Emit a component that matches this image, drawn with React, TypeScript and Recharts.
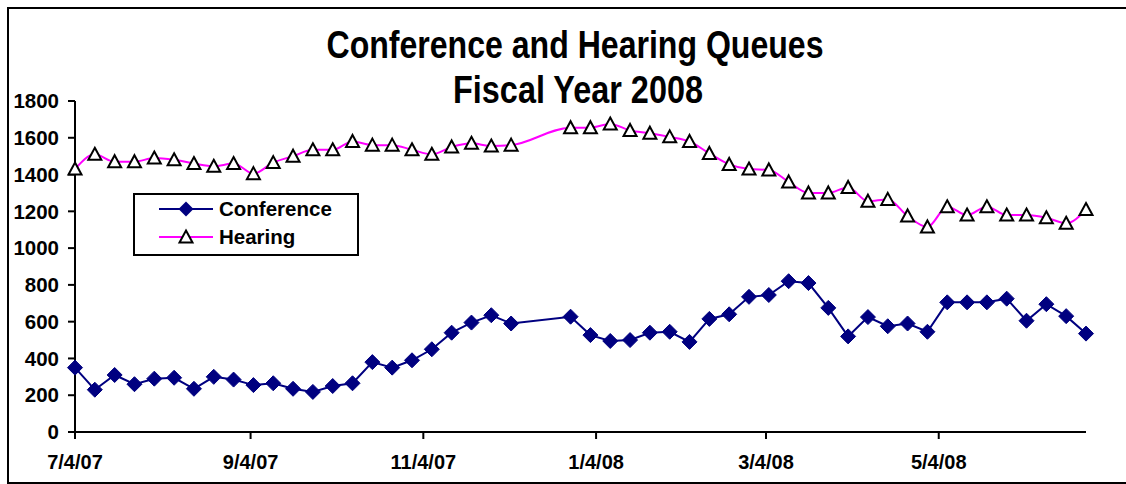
import { LineChart, Line, XAxis, YAxis, Legend } from "recharts";

// weekly queue counts, FY2008 (two weeks missing in December)
const DATES = [
  "7/4/07", "7/11/07", "7/18/07", "7/25/07", "8/1/07", "8/8/07", "8/15/07", "8/22/07",
  "8/29/07", "9/5/07", "9/12/07", "9/19/07", "9/26/07", "10/3/07", "10/10/07", "10/17/07",
  "10/24/07", "10/31/07", "11/7/07", "11/14/07", "11/21/07", "11/28/07", "12/5/07",
  "12/26/07", "1/2/08", "1/9/08", "1/16/08", "1/23/08", "1/30/08", "2/6/08", "2/13/08",
  "2/20/08", "2/27/08", "3/5/08", "3/12/08", "3/19/08", "3/26/08", "4/2/08", "4/9/08",
  "4/16/08", "4/23/08", "4/30/08", "5/7/08", "5/14/08", "5/21/08", "5/28/08", "6/4/08",
  "6/11/08", "6/18/08", "6/25/08",
];

const CONFERENCE = [
  350, 230, 310, 260, 290, 295, 235, 300, 285, 255, 265, 235, 218, 250, 265, 380,
  350, 390, 450, 540, 595, 635, 590,
  627, 527, 495, 500, 540, 545, 490, 615, 640, 735, 745, 820, 810, 675, 520, 625,
  575, 590, 545, 705, 705, 705, 725, 605, 695, 630, 535,
];

const HEARING = [
  1430, 1510, 1470, 1470, 1490, 1480, 1460, 1445, 1460, 1405, 1465, 1500, 1535, 1535,
  1580, 1560, 1560, 1535, 1510, 1550, 1570, 1555, 1560,
  1655, 1655, 1675, 1640, 1625, 1605, 1580, 1515, 1455, 1430, 1425, 1360, 1300, 1300,
  1330, 1255, 1265, 1175, 1115, 1225, 1180, 1225, 1180, 1180, 1165, 1135, 1210,
];

const X_TICKS = ["7/4/07", "9/4/07", "11/4/07", "1/4/08", "3/4/08", "5/4/08"];
const Y_TICKS = [0, 200, 400, 600, 800, 1000, 1200, 1400, 1600, 1800];

const FONT = "'Liberation Sans', Arial, Helvetica, sans-serif";
const TITLE_FONT = "'Liberation Sans Narrow', 'Arial Narrow', 'Liberation Sans', Arial, sans-serif";
const NAVY = "#000080";
const MAGENTA = "#FF00FF";

function toTime(s: string) {
  const [m, d, y] = s.split("/").map(Number);
  return Date.UTC(2000 + y, m - 1, d);
}

function fmtDate(t: number) {
  const d = new Date(t);
  return `${d.getUTCMonth() + 1}/${d.getUTCDate()}/${String(d.getUTCFullYear()).slice(2)}`;
}

const data = DATES.map((d, i) => ({
  t: toTime(d),
  conference: CONFERENCE[i],
  hearing: HEARING[i],
}));

const diamond = (cx: number, cy: number, r: number) =>
  `M${cx},${cy - r}L${cx + r},${cy}L${cx},${cy + r}L${cx - r},${cy}Z`;
const triangle = (cx: number, cy: number, r: number) =>
  `M${cx},${cy - r}L${cx + r},${cy + r - 1}L${cx - r},${cy + r - 1}Z`;

const DiamondDot = (p: any) => (
  <path key={`c${p.index}`} d={diamond(p.cx, p.cy, 7.5)} fill={NAVY} stroke={NAVY} strokeWidth={1} />
);
const TriangleDot = (p: any) => (
  <path key={`h${p.index}`} d={triangle(p.cx, p.cy, 6.5)} fill="#fff" stroke="#000" strokeWidth={2} />
);

function LegendBox({ payload }: any) {
  return (
    <svg width={226} height={63} style={{ display: "block" }}>
      <rect x={1} y={1} width={224} height={61} fill="#fff" stroke="#000" strokeWidth={2} />
      {(payload || []).map((item: any, i: number) => {
        const y = 16 + i * 28;
        const isConf = item.dataKey === "conference";
        return (
          <g key={item.value}>
            <line x1={26} x2={80} y1={y} y2={y} stroke={item.color} strokeWidth={2} />
            {isConf ? (
              <path d={diamond(53, y, 7.5)} fill={NAVY} />
            ) : (
              <path d={triangle(53, y, 6.5)} fill="#fff" stroke="#000" strokeWidth={2} />
            )}
            <text x={86} y={y + 7} fontFamily={FONT} fontWeight="bold" fontSize={20.5} fill="#000">
              {item.value}
            </text>
          </g>
        );
      })}
    </svg>
  );
}

export default function App() {
  const W = 1126;
  const H = 484;
  return (
    <div style={{ position: "absolute", left: 0, top: 0, width: W, height: H, background: "#fff" }}>
      <LineChart width={W} height={H} data={data} margin={{ top: 101, right: 40, bottom: 0, left: 0 }}>
        <XAxis
          dataKey="t"
          type="number"
          domain={[toTime("7/4/07"), toTime("6/25/08")]}
          ticks={X_TICKS.map(toTime)}
          tickFormatter={fmtDate}
          height={52}
          axisLine={{ stroke: "#000", strokeWidth: 2 }}
          tickLine={{ stroke: "#000", strokeWidth: 2 }}
          tickSize={7}
          tickMargin={16}
          tick={{ fill: "#000", fontSize: 20, fontWeight: "bold", fontFamily: FONT }}
        />
        <YAxis
          domain={[0, 1800]}
          ticks={Y_TICKS}
          width={75}
          axisLine={{ stroke: "#000", strokeWidth: 2 }}
          tickLine={{ stroke: "#000", strokeWidth: 2 }}
          tickSize={7}
          tickMargin={9}
          tick={{ fill: "#000", fontSize: 20.5, fontWeight: "bold", fontFamily: FONT }}
        />
        <Legend
          layout="horizontal"
          verticalAlign="middle"
          align="center"
          wrapperStyle={{ left: 133, top: 193, width: 226, height: 63 }}
          content={<LegendBox />}
        />
        <Line
          name="Conference"
          dataKey="conference"
          type="linear"
          stroke={NAVY}
          strokeWidth={2}
          dot={DiamondDot}
          isAnimationActive={false}
        />
        <Line
          name="Hearing"
          dataKey="hearing"
          type="monotone"
          stroke={MAGENTA}
          strokeWidth={2}
          dot={TriangleDot}
          isAnimationActive={false}
        />
      </LineChart>
      <svg
        width={W}
        height={H}
        style={{ position: "absolute", left: 0, top: 0, pointerEvents: "none" }}
      >
        <rect x={8} y={8} width={1140} height={475} fill="none" stroke="#000" strokeWidth={2} />
        <text
          x={575}
          y={58}
          textAnchor="middle"
          fontFamily={TITLE_FONT}
          fontWeight="bold"
          fontSize={39}
          textLength={497}
          lengthAdjust="spacingAndGlyphs"
        >
          Conference and Hearing Queues
        </text>
        <text
          x={578}
          y={103}
          textAnchor="middle"
          fontFamily={TITLE_FONT}
          fontWeight="bold"
          fontSize={39}
          textLength={250}
          lengthAdjust="spacingAndGlyphs"
        >
          Fiscal Year 2008
        </text>
      </svg>
    </div>
  );
}
